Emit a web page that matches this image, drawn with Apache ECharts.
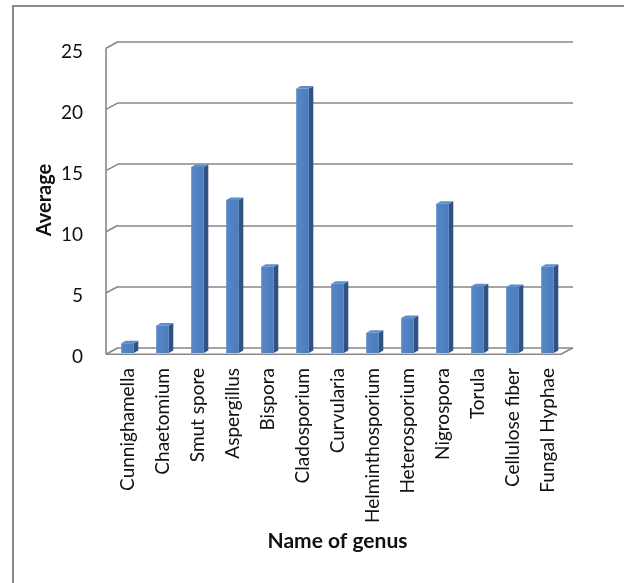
<!DOCTYPE html>
<html>
<head>
<meta charset="utf-8">
<script src="https://cdn.jsdelivr.net/npm/echarts@6/dist/echarts.min.js"></script>
<style>
html,body{margin:0;padding:0;background:#fff;}
#chart{width:624px;height:583px;}
</style>
</head>
<body>
<div id="chart"></div>
<script>
var categories = ['Cunnighamella','Chaetomium','Smut spore','Aspergillus','Bispora','Cladosporium','Curvularia','Helminthosporium','Heterosporium','Nigrospora','Torula','Cellulose fiber','Fungal Hyphae'];
var averages = [0.8, 2.25, 15.2, 12.5, 7.05, 21.6, 5.65, 1.65, 2.85, 12.2, 5.45, 5.4, 7.05];
var tickValues = [0, 5, 10, 15, 20, 25];

var FONT = 'Lato';
var chart = echarts.init(document.getElementById('chart'), null, {renderer:'canvas'});

// depth offsets relative to bar plane
var BACK_DX = 8, BACK_DY = -5.3, FRONT_DX = -4, FRONT_DY = 1.2;
var WALL = '#878787';

chart.setOption({
  animation: false,
  graphic: [{
    type: 'rect', z: -10,
    shape: {x: 13, y: 6, width: 700, height: 700},
    style: {fill: 'none', stroke: '#8a8a8a', lineWidth: 2}
  }],
  grid: [
    {left: 110, width: 455, top: 47, height: 306},
    {left: 118, width: 455, top: 41.7, height: 306},
    {left: 110, width: 455, top: 51.7, height: 305}
  ],
  xAxis: [
    {type: 'category', gridIndex: 0, data: categories,
     axisLine: {show: false}, axisTick: {show: false},
     axisLabel: {rotate: 90, margin: 15, interval: 0, fontFamily: FONT, fontSize: 19, color: '#111'},
     name: 'Name of genus', nameLocation: 'middle', nameGap: 178,
     nameTextStyle: {fontFamily: FONT, fontSize: 21, fontWeight: 'bold', color: '#111'}},
    {type: 'category', gridIndex: 1, data: categories, show: false},
    {type: 'category', gridIndex: 2, data: categories, show: false}
  ],
  yAxis: [
    {type: 'value', gridIndex: 0, min: 0, max: 25, interval: 5,
     axisLine: {show: false}, axisTick: {show: false}, splitLine: {show: false}, axisLabel: {show: false},
     name: 'Average', nameLocation: 'middle', nameGap: 55, nameRotate: 90,
     nameTextStyle: {fontFamily: FONT, fontSize: 20, fontWeight: 'bold', color: '#111'}},
    {type: 'value', gridIndex: 1, min: 0, max: 25, interval: 5,
     axisLine: {show: false}, axisTick: {show: false}, axisLabel: {show: false},
     splitLine: {show: true, lineStyle: {color: WALL, width: 1.6}}},
    {type: 'value', gridIndex: 2, min: 0, max: 25, interval: 5,
     axisLine: {show: false}, axisTick: {show: false}, splitLine: {show: false},
     axisLabel: {margin: 27, fontFamily: FONT, fontSize: 19, color: '#111'}}
  ],
  series: [
    {
      type: 'custom', xAxisIndex: 0, yAxisIndex: 0, z: 1, silent: true,
      data: tickValues.map(function(v){ return [0, v]; }),
      encode: {x: 0, y: 1},
      renderItem: function(params, api) {
        var cs = params.coordSys;
        var v = api.value(1);
        var y = api.coord([0, v])[1];
        var x0 = cs.x;
        var children = [{
          type: 'line',
          shape: {x1: x0 + FRONT_DX, y1: y + FRONT_DY, x2: x0 + BACK_DX, y2: y + BACK_DY},
          style: {stroke: WALL, lineWidth: 1.6}
        }];
        if (v === 0) {
          var yTop = api.coord([0, 25])[1];
          children.push({type: 'line',
            shape: {x1: x0 + FRONT_DX, y1: yTop + FRONT_DY, x2: x0 + FRONT_DX, y2: y + FRONT_DY},
            style: {stroke: WALL, lineWidth: 1.6}});
          children.push({type: 'polyline',
            shape: {points: [[x0 + FRONT_DX, y + FRONT_DY], [x0 + cs.width + FRONT_DX, y + FRONT_DY], [x0 + cs.width + BACK_DX, y + BACK_DY]]},
            style: {stroke: WALL, lineWidth: 1.6, fill: 'none'}});
        }
        return {type: 'group', children: children};
      }
    },
    {
      type: 'custom', xAxisIndex: 0, yAxisIndex: 0, z: 5,
      data: averages.map(function(v, i){ return [i, v]; }),
      encode: {x: 0, y: 1},
      renderItem: function(params, api) {
        var i = api.value(0), v = api.value(1);
        var top = api.coord([i, v]);
        var base = api.coord([i, 0]);
        var bw = api.size([1, 0])[0] * 0.36;
        var dx = 4.5, dy = -2.5;
        var x = top[0] - bw / 2, yT = top[1], yB = base[1];
        return {type: 'group', children: [
          {type: 'polygon', shape: {points: [[x + bw, yT], [x + bw + dx, yT + dy], [x + bw + dx, yB + dy], [x + bw, yB]]},
           style: {fill: '#2f5283'}},
          {type: 'polygon', shape: {points: [[x, yT], [x + dx, yT + dy], [x + bw + dx, yT + dy], [x + bw, yT]]},
           style: {fill: '#5d8dcc'}},
          {type: 'rect', shape: {x: x, y: yT, width: bw, height: yB - yT},
           style: {fill: new echarts.graphic.LinearGradient(0, 0, 1, 0, [
             {offset: 0, color: '#5787c6'}, {offset: 1, color: '#4a7bba'}])}}
        ]};
      }
    }
  ]
});
</script>
</body>
</html>
